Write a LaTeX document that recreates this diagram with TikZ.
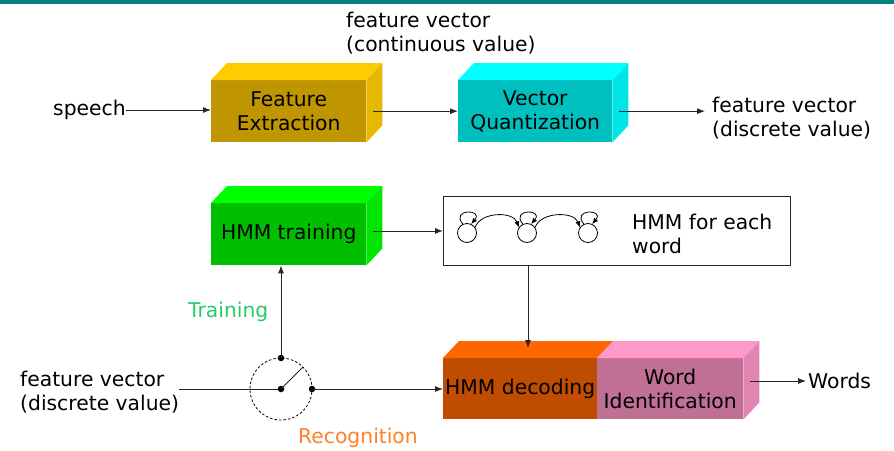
\documentclass[tikz,border=0pt]{standalone}
\usepackage{fontspec}
\setmainfont{DejaVu Sans}
\usetikzlibrary{arrows.meta}

\definecolor{bandTeal}{RGB}{0,128,128}
\definecolor{feFront}{RGB}{191,150,0}
\definecolor{feTop}{RGB}{255,204,0}
\definecolor{feSide}{RGB}{230,184,0}
\definecolor{vqFront}{RGB}{0,191,191}
\definecolor{vqTop}{RGB}{0,255,255}
\definecolor{vqSide}{RGB}{0,230,230}
\definecolor{trFront}{RGB}{0,191,0}
\definecolor{trTop}{RGB}{0,255,0}
\definecolor{trSide}{RGB}{0,230,0}
\definecolor{decFront}{RGB}{191,76,0}
\definecolor{decTop}{RGB}{255,102,0}
\definecolor{wiFront}{RGB}{191,112,148}
\definecolor{wiTop}{RGB}{255,153,204}
\definecolor{wiSide}{RGB}{224,133,179}
\definecolor{trainTxt}{RGB}{34,204,102}
\definecolor{recogTxt}{RGB}{255,128,40}

\tikzset{
  lbl/.style={inner sep=0pt, font=\fontsize{20.3}{24}\selectfont, align=left},
  face/.style={inner sep=0pt, font=\fontsize{20.3}{24}\selectfont, align=center, anchor=north west},
  arr/.style={draw=black!85, line width=0.9pt, -{Latex[length=8pt,width=6pt]}},
  wire/.style={draw=black!85, line width=0.9pt},
  dot/.style={circle, fill=black, inner sep=0pt, minimum size=6.5pt},
  state/.style={circle, draw=black, line width=0.8pt, minimum size=19pt, inner sep=0pt},
  trans/.style={draw=black, line width=0.8pt, -{Latex[length=6pt,width=5pt]}},
}

% top and right faces of a block whose front face is a node
\newcommand\blocktop[2]{%
  \fill[#2] (#1.north west) -- ([shift={(16pt,17pt)}]#1.north west)
    -- ([shift={(16pt,17pt)}]#1.north east) -- (#1.north east) -- cycle;}
\newcommand\blockside[2]{%
  \fill[#2] (#1.north east) -- ([shift={(16pt,17pt)}]#1.north east)
    -- ([shift={(16pt,17pt)}]#1.south east) -- (#1.south east) -- cycle;}

\begin{document}
\begin{tikzpicture}[x=1pt, y=-1pt]
\useasboundingbox (0,0) rectangle (894,450);
\fill[bandTeal] (0,0) rectangle (894,3.5);

% ---- front end: feature extraction and vector quantization ----
\node[face, fill=feFront, minimum width=155pt, minimum height=62pt] (fe) at (211,80) {Feature\\Extraction};
\blocktop{fe}{feTop}
\blockside{fe}{feSide}

\node[face, fill=vqFront, minimum width=154pt, minimum height=62pt] (vq) at (458,80) {Vector\\Quantization};
\blocktop{vq}{vqTop}
\blockside{vq}{vqSide}

\node[lbl, anchor=west] (speech) at (53,110) {speech};
\node[lbl, anchor=west] (fvcont) at (346,33) {feature vector\\(continuous value)};
\node[lbl, anchor=west] (fvdisc) at (712,118) {feature vector\\(discrete value)};

\draw[arr] (speech.east) -- (fe.west |- speech.east);
\draw[arr] ([xshift=7pt]fe.east) -- (vq.west);
\draw[arr] ([xshift=7pt]vq.east) -- ([xshift=-7pt]fvdisc.west |- vq.east);

% ---- training branch ----
\node[face, fill=trFront, minimum width=155pt, minimum height=62pt] (train) at (211,203) {HMM training};
\blocktop{train}{trTop}
\blockside{train}{trSide}

\node[draw=black!85, line width=0.9pt, minimum width=347pt, minimum height=69pt,
      inner sep=0pt, anchor=north west] (hmmbox) at (443,196) {};
\node[lbl, anchor=west] (hmmtxt) at (632,234) {HMM for each\\word};

% left-to-right model: three states with self-loops
\node[state] (s1) at (467,233) {};
\node[state] (s2) at (527,233) {};
\node[state] (s3) at (588,233) {};
\foreach \s in {s1,s2,s3}
  \draw[trans] (\s.115) .. controls +(130:20pt) and +(50:20pt) .. (\s.65);
\draw[trans] (s1.35) .. controls +(70:17pt) and +(110:17pt) .. (s2.145);
\draw[trans] (s2.35) .. controls +(70:17pt) and +(110:17pt) .. (s3.145);

\draw[arr] ([xshift=7pt]train.east |- hmmbox.west) -- (hmmbox.west);

% ---- recognition branch ----
\node[face, fill=decFront, minimum width=154pt, minimum height=61pt] (dec) at (443,358) {HMM decoding};
\node[face, fill=wiFront, minimum width=146pt, minimum height=61pt] (wi) at (597,358) {Word\\Identification};
\blocktop{dec}{decTop}
\blocktop{wi}{wiTop}
\blockside{wi}{wiSide}

\node[lbl, anchor=west] (words) at (808,381) {Words};
\draw[arr] ([xshift=7pt]wi.east |- words.west) -- ([xshift=-2pt]words.west);

\coordinate (dectop) at (528,348);
\draw[arr] (hmmbox.south -| dectop) -- (dectop);

% ---- training / recognition switch ----
\node[circle, draw=black, line width=0.8pt, dash pattern=on 2.5pt off 2pt,
      minimum size=62pt, inner sep=0pt] (ring) at (281,389) {};
\node[dot] (swc) at (281,389) {};
\node[dot] (swt) at (281,358) {};
\node[dot] (swr) at (312,389) {};
\coordinate (blade) at (303,367);
\draw[wire] (swc.center) -- (blade);

\node[lbl, anchor=west] (fvin) at (20,392) {feature vector\\(discrete value)};
\draw[wire] (fvin.east |- swc) -- (swc);
\draw[arr] (swt.center) -- (train.south -| swt);
\draw[arr] (swr.center) -- (dec.west |- swr);

\node[lbl, anchor=west, text=trainTxt] (trainlbl) at (188,312) {Training};
\node[lbl, anchor=west, text=recogTxt] (recoglbl) at (298,438) {Recognition};
\end{tikzpicture}
\end{document}
